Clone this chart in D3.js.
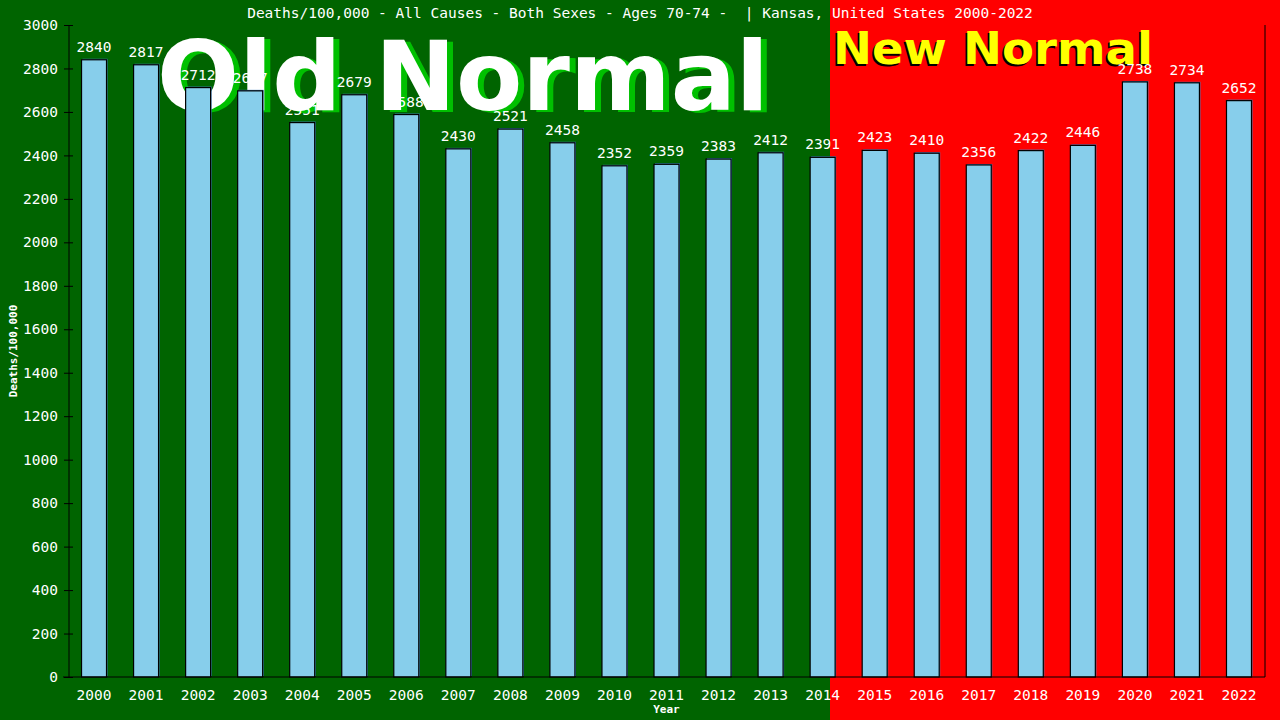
<!DOCTYPE html>
<html>
<head>
<meta charset="utf-8">
<script src="https://cdn.jsdelivr.net/npm/d3@7"></script>
<style>
  html, body { margin: 0; padding: 0; background: #000; }
  svg { display: block; }
  .mono { font-family: "DejaVu Sans Mono", "Liberation Mono", monospace; }
</style>
</head>
<body>
<svg id="chart" width="1280" height="720"></svg>
<script>
// Chart data
const years = ["2000","2001","2002","2003","2004","2005","2006","2007","2008","2009","2010","2011",
               "2012","2013","2014","2015","2016","2017","2018","2019","2020","2021","2022"];
const deathRates = [2840, 2817, 2712, 2697, 2551, 2679, 2588, 2430, 2521, 2458, 2352, 2359,
                    2383, 2412, 2391, 2423, 2410, 2356, 2422, 2446, 2738, 2734, 2652];
const yTicks = [0, 200, 400, 600, 800, 1000, 1200, 1400, 1600, 1800, 2000, 2200, 2400, 2600, 2800, 3000];
const titleText = "Deaths/100,000 - All Causes - Both Sexes - Ages 70-74 -  | Kansas, United States 2000-2022";

const svg = d3.select("#chart");
const width = +svg.attr("width");
const height = +svg.attr("height");

// plot area
const plotLeft = 68, plotRight = 1265, plotTop = 25, plotBottom = 677;

const x = d3.scaleBand().domain(years).range([plotLeft, plotRight]).padding(0);
const y = d3.scaleLinear().domain([0, 3000]).range([plotBottom, plotTop]);

const barW = x.bandwidth() * 0.48;
const barOff = (x.bandwidth() - barW) / 2;

// backgrounds: old normal (green) and new normal (red)
const splitX = 830;
svg.append("rect").attr("x", 0).attr("y", 0).attr("width", splitX).attr("height", height).attr("fill", "#006400");
svg.append("rect").attr("x", splitX).attr("y", 0).attr("width", width - splitX).attr("height", height).attr("fill", "#ff0000");

// big background labels
function bigLabel(txt, xPos, yPos, size, len, fill, shadow, dx, dy) {
    svg.append("text")
        .attr("x", xPos + dx).attr("y", yPos + dy)
        .attr("font-family", "'DejaVu Sans', Verdana, sans-serif")
        .attr("font-weight", "bold")
        .attr("font-size", size)
        .attr("textLength", len)
        .attr("lengthAdjust", "spacingAndGlyphs")
        .attr("fill", shadow)
        .text(txt);
    svg.append("text")
        .attr("x", xPos).attr("y", yPos)
        .attr("font-family", "'DejaVu Sans', Verdana, sans-serif")
        .attr("font-weight", "bold")
        .attr("font-size", size)
        .attr("textLength", len)
        .attr("lengthAdjust", "spacingAndGlyphs")
        .attr("fill", fill)
        .text(txt);
}
bigLabel("Old Normal", 157, 110, 97, 612, "#ffffff", "#00c000", 6, 2);
bigLabel("New Normal", 833, 64, 45, 320, "#ffff00", "#000000", -2, 2);

// title
svg.append("text")
    .attr("class", "mono")
    .attr("x", 640).attr("y", 18)
    .attr("text-anchor", "middle")
    .attr("font-size", 14.5)
    .attr("fill", "#ffffff")
    .style("white-space", "pre")
    .text(titleText);

// bars
const bars = svg.append("g");
bars.selectAll(".shadow")
    .data(deathRates)
    .enter().append("rect")
    .attr("class", "shadow")
    .attr("x", (d, i) => x(years[i]) + barOff + 1)
    .attr("y", d => y(d) - 1)
    .attr("width", barW)
    .attr("height", d => plotBottom - y(d))
    .attr("fill", "#3f7fc0");
bars.selectAll(".bar")
    .data(deathRates)
    .enter().append("rect")
    .attr("class", "bar")
    .attr("x", (d, i) => x(years[i]) + barOff)
    .attr("y", d => y(d))
    .attr("width", barW)
    .attr("height", d => plotBottom - y(d))
    .attr("fill", "#87ceeb")
    .attr("stroke", "#000")
    .attr("stroke-width", 1.2);

// value labels
svg.append("g").selectAll("text")
    .data(deathRates)
    .enter().append("text")
    .attr("class", "mono")
    .attr("x", (d, i) => x(years[i]) + x.bandwidth() / 2)
    .attr("y", d => y(d) - 8)
    .attr("text-anchor", "middle")
    .attr("font-size", 14.5)
    .attr("fill", "#ffffff")
    .text(d => d);

// y axis
const yAxis = svg.append("g")
    .attr("transform", `translate(${plotLeft + 1},0)`)
    .call(d3.axisLeft(y).tickValues(yTicks).tickFormat(d3.format("d")).tickSize(5).tickPadding(6));
yAxis.select(".domain").attr("stroke", "#000").attr("d", `M0,${plotTop}V${plotBottom}`);
yAxis.selectAll(".tick line").attr("stroke", "#000").attr("x1", 4).attr("x2", -5);
yAxis.selectAll(".tick text")
    .attr("font-size", 14.5)
    .attr("font-family", "'DejaVu Sans Mono', monospace")
    .attr("fill", "#ffffff")
    .attr("x", -11);

// x axis
const xAxis = svg.append("g")
    .attr("transform", `translate(0,${plotBottom})`)
    .call(d3.axisBottom(x).tickSize(0).tickPadding(13));
xAxis.select(".domain").attr("stroke", "#000").attr("d", `M${plotLeft - 5},0H${plotRight}`);
xAxis.selectAll(".tick text")
    .attr("font-size", 14.5)
    .attr("font-family", "'DejaVu Sans Mono', monospace")
    .attr("fill", "#ffffff");

// right border
svg.append("line")
    .attr("x1", plotRight).attr("x2", plotRight)
    .attr("y1", plotTop).attr("y2", plotBottom)
    .attr("stroke", "#000");

// axis titles
svg.append("text")
    .attr("class", "mono")
    .attr("x", (plotLeft + plotRight) / 2).attr("y", 713)
    .attr("text-anchor", "middle")
    .attr("font-size", 11)
    .attr("font-weight", "bold")
    .attr("fill", "#ffffff")
    .text("Year");

svg.append("text")
    .attr("class", "mono")
    .attr("transform", `translate(17,${(plotTop + plotBottom) / 2}) rotate(-90)`)
    .attr("text-anchor", "middle")
    .attr("font-size", 11)
    .attr("font-weight", "bold")
    .attr("fill", "#ffffff")
    .text("Deaths/100,000");
</script>
</body>
</html>
